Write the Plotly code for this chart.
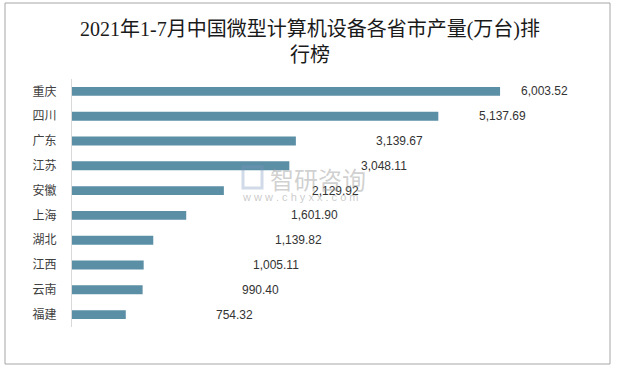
import plotly.graph_objects as go

provinces = ["重庆", "四川", "广东", "江苏", "安徽", "上海", "湖北", "江西", "云南", "福建"]
output_wan = [6003.52, 5137.69, 3139.67, 3048.11, 2129.92, 1601.90, 1139.82, 1005.11, 990.40, 754.32]
value_labels = ["6,003.52", "5,137.69", "3,139.67", "3,048.11", "2,129.92",
                "1,601.90", "1,139.82", "1,005.11", "990.40", "754.32"]
title_text = "2021年1-7月中国微型计算机设备各省市产量(万台)排<br>行榜"

# pixel shifts of the data labels from the bar ends (layout/styling only)
label_shift = [19, 39, 78, 70, 86, 103, 120, 107, 97, 88]

W, H = 620, 367
ml, mr, mt, mb = 72, 30, 79, 40
pw, ph = W - ml - mr, H - mt - mb

fig = go.Figure()
fig.add_trace(go.Bar(
    x=output_wan, y=provinces, orientation="h",
    marker=dict(color="#5b8fa6", line=dict(width=0)),
    width=0.36, hoverinfo="x+y",
))

for p, v, t, s in zip(provinces, output_wan, value_labels, label_shift):
    fig.add_annotation(x=v, y=p, xref="x", yref="y", text=t, showarrow=False,
                       xanchor="left", yanchor="middle", xshift=s,
                       font=dict(family="Liberation Sans, Noto Sans", size=12, color="#333333"))

# watermark
fig.add_annotation(xref="paper", yref="paper", x=(268 - ml) / pw, y=(mt + ph - 178) / ph,
                   text="智研咨询", showarrow=False, xanchor="left", yanchor="middle",
                   font=dict(family="Noto Sans CJK SC", size=24, color="rgba(150,150,150,0.45)"))
fig.add_annotation(xref="paper", yref="paper", x=(240 - ml) / pw, y=(mt + ph - 197) / ph,
                   text="w w w . c h y x x . c o m", showarrow=False, xanchor="left", yanchor="middle",
                   font=dict(family="Liberation Sans", size=11, color="rgba(150,150,150,0.5)"))
fig.add_shape(type="rect", xref="paper", yref="paper",
              x0=(243 - ml) / pw, x1=(262 - ml) / pw,
              y0=(mt + ph - 188) / ph, y1=(mt + ph - 167) / ph,
              line=dict(color="rgba(120,150,190,0.35)", width=3), fillcolor="rgba(0,0,0,0)")

# outer border
fig.add_shape(type="rect", xref="paper", yref="paper",
              x0=(5 - ml) / pw, x1=(610 - ml) / pw,
              y0=(mt + ph - 364) / ph, y1=(mt + ph - 3) / ph,
              line=dict(color="#a6a6a6", width=1), fillcolor="rgba(0,0,0,0)", layer="below")

fig.update_layout(
    width=W, height=H,
    margin=dict(l=ml, r=mr, t=mt, b=mb, autoexpand=False),
    paper_bgcolor="white", plot_bgcolor="white",
    showlegend=False,
    title=dict(text=title_text, x=0.5, xref="container", xanchor="center",
               y=1 - 36 / H, yref="container", yanchor="middle",
               font=dict(family="Liberation Serif, Noto Sans CJK SC", size=20, color="#1a1a1a")),
    xaxis=dict(range=[0, 7265], visible=False, showgrid=False, zeroline=False, automargin=False),
    yaxis=dict(categoryorder="array", categoryarray=provinces, autorange="reversed",
               showline=True, linecolor="#d9d9d9", linewidth=1, showgrid=False,
               ticks="", ticklabelstandoff=12, automargin=False,
               tickfont=dict(family="Noto Sans CJK SC", size=12, color="#404040")),
)

fig.write_html("out.html", config={"displayModeBar": False},
               post_script="document.body.style.margin='0';document.body.style.overflow='hidden';")
